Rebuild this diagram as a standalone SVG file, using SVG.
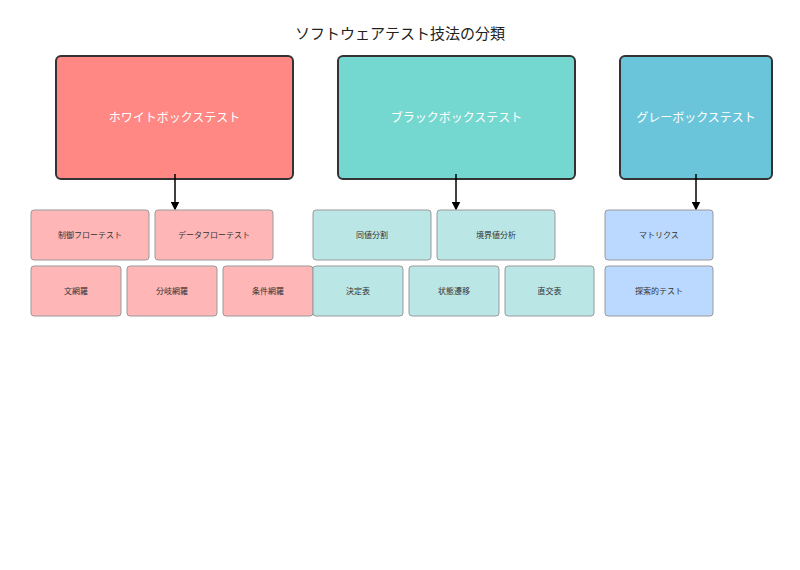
<svg xmlns="http://www.w3.org/2000/svg" width="800" height="570" viewBox="0 0 800 570">
<style>
text{font-family:"Noto Sans CJK JP","Noto Sans",sans-serif;text-anchor:middle;dominant-baseline:central}
.big{stroke:#333;stroke-width:2}
.bt{fill:#fff;font-size:12px}
.s{stroke:#999;stroke-width:1}
.st{fill:#333;font-size:8px}
.w{fill:#ffb6b6}.b{fill:#bbe6e6}.g{fill:#bbd9ff}
</style>
<defs><marker id="a" markerWidth="6" markerHeight="6" refX="5" refY="3" orient="auto"><path d="M0,0L6,3L0,6z" fill="#000"/></marker></defs>
<rect width="800" height="570" fill="#fff"/>
<text x="400" y="32" font-size="15" fill="#222">ソフトウェアテスト技法の分類</text>
<g id="white"><rect class="big" x="56" y="56" width="237" height="123" rx="5" fill="#ff8884"/><text class="bt" x="174.5" y="116">ホワイトボックステスト</text></g>
<g id="black"><rect class="big" x="338" y="56" width="237" height="123" rx="5" fill="#74d7d0"/><text class="bt" x="456.5" y="116">ブラックボックステスト</text></g>
<g id="grey"><rect class="big" x="620" y="56" width="152" height="123" rx="5" fill="#6ac5da"/><text class="bt" x="696" y="116">グレーボックステスト</text></g>
<g id="connectors" stroke="#000" stroke-width="1.5" marker-end="url(#a)">
<line x1="175" y1="174" x2="175" y2="209"/><line x1="456" y1="174" x2="456" y2="209"/><line x1="696" y1="174" x2="696" y2="209"/>
</g>
<g id="n1"><rect class="s w" x="31" y="210" width="118" height="50" rx="3"/><text class="st" x="90" y="234">制御フローテスト</text></g>
<g id="n2"><rect class="s w" x="155" y="210" width="118" height="50" rx="3"/><text class="st" x="214" y="234">データフローテスト</text></g>
<g id="n3"><rect class="s w" x="31" y="266" width="90" height="50" rx="3"/><text class="st" x="76" y="290">文網羅</text></g>
<g id="n4"><rect class="s w" x="127" y="266" width="90" height="50" rx="3"/><text class="st" x="172" y="290">分岐網羅</text></g>
<g id="n5"><rect class="s w" x="223" y="266" width="90" height="50" rx="3"/><text class="st" x="268" y="290">条件網羅</text></g>
<g id="n6"><rect class="s b" x="313" y="210" width="118" height="50" rx="3"/><text class="st" x="372" y="234">同値分割</text></g>
<g id="n7"><rect class="s b" x="437" y="210" width="118" height="50" rx="3"/><text class="st" x="496" y="234">境界値分析</text></g>
<g id="n8"><rect class="s b" x="313" y="266" width="90" height="50" rx="3"/><text class="st" x="358" y="290">決定表</text></g>
<g id="n9"><rect class="s b" x="409" y="266" width="90" height="50" rx="3"/><text class="st" x="454" y="290">状態遷移</text></g>
<g id="n10"><rect class="s b" x="505" y="266" width="89" height="50" rx="3"/><text class="st" x="549.5" y="290">直交表</text></g>
<g id="n11"><rect class="s g" x="605" y="210" width="108" height="50" rx="3"/><text class="st" x="659" y="234">マトリクス</text></g>
<g id="n12"><rect class="s g" x="605" y="266" width="108" height="50" rx="3"/><text class="st" x="659" y="290">探索的テスト</text></g>
</svg>
